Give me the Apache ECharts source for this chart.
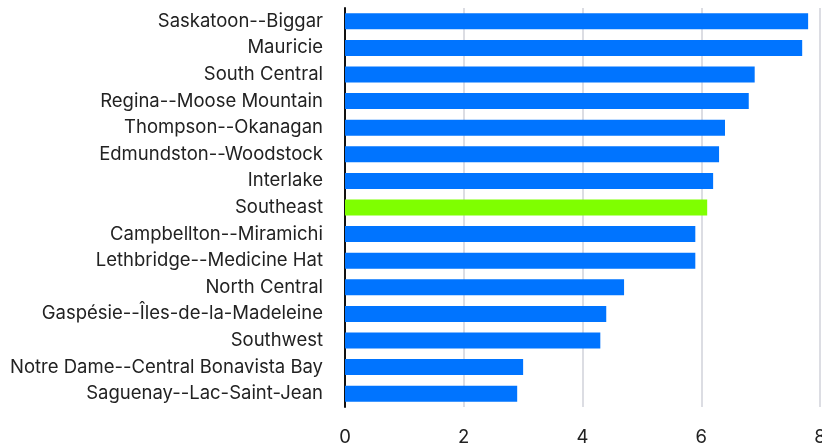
<!DOCTYPE html>
<html><head><meta charset="utf-8">
<script src="https://cdn.jsdelivr.net/npm/echarts@6/dist/echarts.min.js"></script>
<style>html,body{margin:0;padding:0;background:#fff}#c{width:822px;height:447px}</style>
</head><body><div id="c"></div>
<script>
const categories = ["Saskatoon--Biggar","Mauricie","South Central","Regina--Moose Mountain","Thompson--Okanagan","Edmundston--Woodstock","Interlake","Southeast","Campbellton--Miramichi","Lethbridge--Medicine Hat","North Central","Gaspésie--Îles-de-la-Madeleine","Southwest","Notre Dame--Central Bonavista Bay","Saguenay--Lac-Saint-Jean"];
const values = [7.8,7.7,6.9,6.8,6.4,6.3,6.2,6.1,5.9,5.9,4.7,4.4,4.3,3.0,2.9];
const highlight = "Southeast";
const xTicks = [0,2,4,6,8];

const chart = echarts.init(document.getElementById('c'));
chart.setOption({
  animation:false,
  textStyle:{fontFamily:'Inter'},
  grid:{left:345,right:2,top:8,bottom:40,containLabel:false,outerBoundsMode:'none'},
  xAxis:{type:'value',min:xTicks[0],max:xTicks[xTicks.length-1],interval:2,
    axisLine:{show:false},axisTick:{show:false},
    axisLabel:{fontSize:18.5,color:'#222',margin:21,fontFamily:'Inter',hideOverlap:false},
    splitLine:{show:true,lineStyle:{color:'#dcdde3',width:2}}},
  yAxis:{type:'category',data:categories,inverse:true,
    axisLine:{show:true,lineStyle:{color:'#111',width:2}},axisTick:{show:false},
    axisLabel:{fontSize:18.5,color:'#222',margin:22,fontFamily:'Inter',interval:0}},
  series:[{type:'bar',barCategoryGap:'40%',
    data:values.map((v,i)=>({value:v,itemStyle:{color:categories[i]===highlight?'#7fff00':'#0074ff'}}))}]
});
</script></body></html>
